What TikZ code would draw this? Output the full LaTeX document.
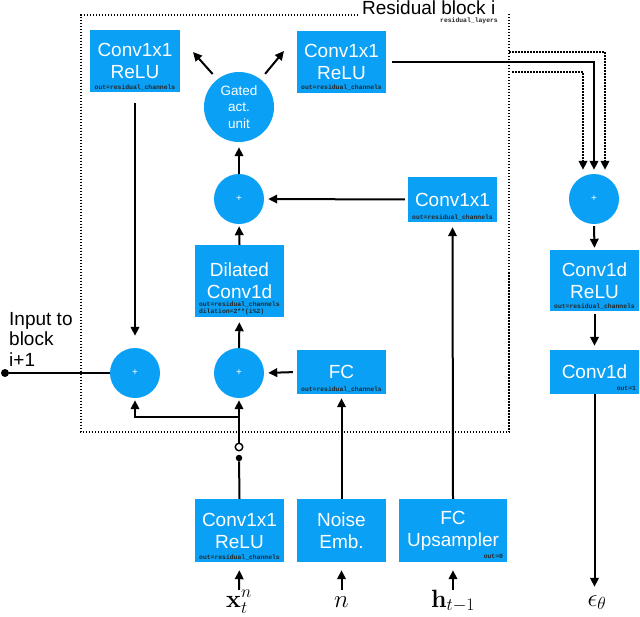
\documentclass[tikz,border=0pt]{standalone}
\usepackage{fix-cm}
\usepackage[no-math]{fontspec}
\setmainfont{Liberation Sans}
\newfontfamily\smallmono{Liberation Mono}
\usetikzlibrary{arrows.meta}
\definecolor{nnblue}{RGB}{10,160,245}
\begin{document}
\begin{tikzpicture}[x=1pt,y=-1pt,
 box/.style={fill=nnblue,text=white,inner sep=0pt,align=center,font=\fontsize{19}{22}\selectfont},
 circ/.style={circle,fill=nnblue,text=white,inner sep=0pt,minimum size=50pt,font=\fontsize{10}{10}\selectfont},
 tinytxt/.style={font=\smallmono\bfseries\fontsize{6.4}{7}\selectfont,inner sep=0pt,text=black!85},
 ln/.style={line width=2pt},
 arr/.style={ln,-{Triangle[length=9pt,width=8.5pt]}},
 dotl/.style={line width=2pt,dash pattern=on 1.5pt off 1.5pt},
 dotarr/.style={dotl,-{Triangle[length=9pt,width=8.5pt]}},
 mlbl/.style={inner sep=0pt,text height=17pt,text depth=6pt,anchor=base,font=\fontsize{25}{29}\selectfont},
]
\useasboundingbox (0,0) rectangle (640,616);

% residual block frame
\draw[dotl] (358,14.5) -- (81,14.5) -- (81,432) -- (509,432) -- (509,13);
\node[anchor=base west,inner sep=0pt,font=\fontsize{19}{22}\selectfont] (title) at (362,14) {Residual block i};
\node[tinytxt,anchor=north east] (rl) at (498,17.5) {residual\_layers};

% boxes
\node[box,minimum width=90pt,minimum height=62pt] (c1) at (135,61) {Conv1x1\\ReLU};
\node[tinytxt,above=2pt] (c1s) at (c1.south) {out=residual\_channels};
\node[box,minimum width=89pt,minimum height=62pt] (c2) at (341.5,61.5) {Conv1x1\\ReLU};
\node[tinytxt,above=2pt] (c2s) at (c2.south) {out=residual\_channels};
\node[box,minimum width=89pt,minimum height=45pt] (c3) at (452.5,199.5) {Conv1x1};
\node[tinytxt,above=2pt] (c3s) at (c3.south) {out=residual\_channels};
\node[box,minimum width=89pt,minimum height=72pt] (dil) at (239.5,281) {Dilated\\Conv1d};
\node[tinytxt,anchor=south west,align=left] (dils) at ([xshift=4pt,yshift=2pt]dil.south west) {out=residual\_channels\\dilation=2**(i\%2)};
\node[box,minimum width=89pt,minimum height=44pt] (fc) at (341.5,372) {FC};
\node[tinytxt,above=2pt] (fcs) at (fc.south) {out=residual\_channels};

\node[box,minimum width=89pt,minimum height=61pt] (c4) at (594.5,280.5) {Conv1d\\ReLU};
\node[tinytxt,above=2pt] (c4s) at (c4.south) {out=residual\_channels};
\node[box,minimum width=89pt,minimum height=44pt] (c5) at (594.5,372) {Conv1d};
\node[tinytxt,anchor=south east] (c5s) at ([xshift=-3pt,yshift=3pt]c5.south east) {out=1};

\node[box,minimum width=89pt,minimum height=63pt] (b1) at (239.5,530.5) {Conv1x1\\ReLU};
\node[tinytxt,above=2pt] (b1s) at (b1.south) {out=residual\_channels};
\node[box,minimum width=89pt,minimum height=63pt] (b2) at (341.5,530.5) {Noise\\Emb.};
\node[box,minimum width=108pt,minimum height=63pt] (b3) at (453,530.5) {FC\\Upsampler};
\node[tinytxt,anchor=south east] (b3s) at ([xshift=-4pt,yshift=3pt]b3.south east) {out=0};

% circles
\node[circ,minimum size=70pt,align=center,font=\fontsize{13.5}{16.5}\selectfont] (gated) at (239,107) {Gated\\act.\\unit};
\node[circ] (plus1) at (239,199) {+};
\node[circ] (plus2) at (239,373) {+};
\node[circ] (plus3) at (135,373) {+};
\node[circ] (plusr) at (594,199) {+};

% input / output labels
\node[anchor=north west,align=left,inner sep=0pt,font=\fontsize{19}{20.5}\selectfont] (inp) at (9,312) {Input to\\block\\i+1};
\node[circle,fill=black,inner sep=0pt,minimum size=8pt] (outdot) at (5,373) {};
\node[mlbl] (xt) at (239,607) {$\mathbf{x}_t^n$};
\node[mlbl] (nn) at (341.5,607) {$n$};
\node[mlbl] (ht) at (453,607) {$\mathbf{h}_{t-1}$};
\node[mlbl] (eps) at (597,606) {$\epsilon_\theta$};

% small junction markers
\node[circle,fill=black,inner sep=0pt,minimum size=6.5pt] (fdot) at (239,458) {};
\node[circle,draw=black,line width=1.4pt,fill=white,inner sep=0pt,minimum size=7.5pt] (odot) at (239,447) {};
\coordinate (br) at (239,417);
\coordinate (gl) at (193,52);
\coordinate (gr) at (284,51);
\coordinate (s1) at (509,52);
\coordinate (s2) at (512,72);

% connectors
\draw[arr,shorten >=5pt] (plus1.north) -- (gated.south);
\draw[arr,shorten <=7pt] (gated.128) -- (gl);
\draw[arr,shorten <=7pt] (gated.52) -- (gr);
\draw[arr,shorten >=2pt] (dil.north) -- (plus1.south);
\draw[arr,shorten <=3pt,shorten >=4pt] (c3.west) -- (plus1.east);
\draw[arr,shorten >=5pt] (b3.north) -- (c3.south);
\draw[arr,shorten >=4pt] (b2.north) -- (fc.south);
\draw[arr,shorten <=4pt,shorten >=4pt] (fc.west) -- (plus2.east);
\draw[arr,shorten >=5pt] (plus2.north) -- (dil.south);
\draw[arr,shorten <=11pt,shorten >=12pt] (c1.south) -- (plus3.north);
\draw[ln] (outdot) -- (plus3.west);
\draw[ln] (b1.north) -- (fdot);
\draw[arr,shorten >=2pt] (odot) -- (plus2.south);
\draw[arr,shorten >=2pt] (br) -| (plus3.south);

\draw[arr,shorten <=6pt,shorten >=4pt] (c2.east) -| (plusr.north);
\draw[dotarr,shorten >=4pt] (s1) -| ([xshift=11pt]plusr.north);
\draw[dotarr,shorten >=4pt] (s2) -| ([xshift=-11pt]plusr.north);
\draw[arr,shorten <=2pt,shorten >=2pt] (plusr.south) -- (c4.north);
\draw[arr,shorten <=3pt,shorten >=4pt] (c4.south) -- (c5.north);
\draw[arr,shorten >=2pt] (c5.south) -- (c5.south |- eps.north);

\draw[arr,shorten >=8pt] (xt.north) -- (b1.south);
\draw[arr,shorten >=8pt] (nn.north) -- (b2.south);
\draw[arr,shorten >=8pt] (ht.north) -- (b3.south);
\end{tikzpicture}
\end{document}
